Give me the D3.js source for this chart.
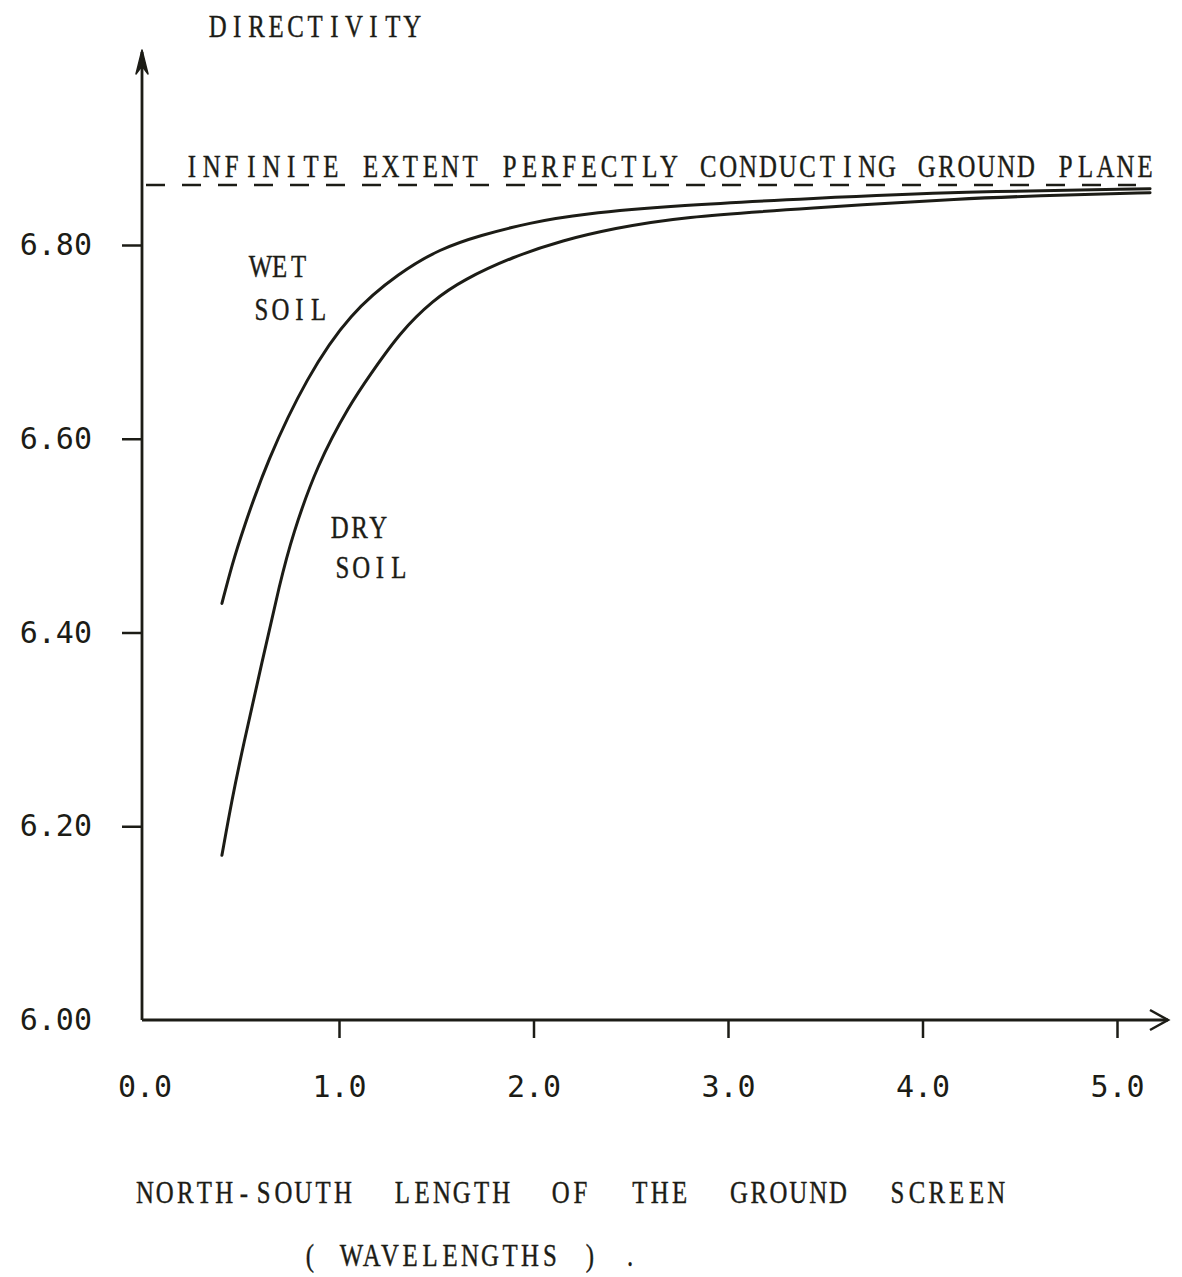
<!DOCTYPE html>
<html>
<head>
<meta charset="utf-8">
<script src="https://cdn.jsdelivr.net/npm/d3@7/dist/d3.min.js"></script>
<style>
  html, body { margin: 0; padding: 0; background: #ffffff; }
  svg { display: block; }
  .tw { font-family: "Liberation Serif", "DejaVu Serif", serif; font-size: 31px; fill: #1c1c16; stroke: #1c1c16; stroke-width: 0.4px; white-space: pre; }
  .num { font-family: "DejaVu Sans Mono", monospace; font-size: 30px; fill: #1c1c16; }
</style>
</head>
<body>
<svg id="chart" width="1182" height="1277"></svg>
<script>
// ---- data ----
const wetX = [0.398, 0.450, 0.506, 0.630, 0.835, 1.057, 1.314, 1.519, 1.725, 1.982, 2.239, 2.753, 3.422, 4.193, 5.170];
const wetY = [6.430, 6.470, 6.506, 6.577, 6.664, 6.730, 6.772, 6.796, 6.810, 6.823, 6.832, 6.841, 6.848, 6.855, 6.858];
const dryX = [0.398, 0.450, 0.506, 0.604, 0.697, 0.760, 0.887, 1.057, 1.160, 1.314, 1.483, 1.638, 1.895, 2.152, 2.409, 2.753, 3.422, 4.193, 4.774, 5.170];
const dryY = [6.170, 6.228, 6.282, 6.369, 6.452, 6.500, 6.573, 6.636, 6.666, 6.710, 6.743, 6.764, 6.788, 6.805, 6.817, 6.829, 6.838, 6.848, 6.852, 6.854];
const referenceLevel = 6.862;
const xTicks = [0, 1, 2, 3, 4, 5];
const yTicks = [6.00, 6.20, 6.40, 6.60, 6.80];
const yTitle = "DIRECTIVITY";
const refLabel = "INFINITE EXTENT PERFECTLY CONDUCTING GROUND PLANE";
const xTitle1 = "NORTH-SOUTH  LENGTH  OF  THE  GROUND  SCREEN";
const xTitle2 = "( WAVELENGTHS ) .";

// ---- drawing ----
const ink = "#1c1c16";
const svg = d3.select("#chart");
const x = d3.scaleLinear().domain([0, 5]).range([144.5, 1117]);
const y = d3.scaleLinear().domain([6.0, 6.8]).range([1020, 245]);
const axisX0 = 142;

// x axis ticks + labels
const gx = svg.append("g").attr("transform", `translate(0,${y(6.0)})`)
  .call(d3.axisBottom(x).tickValues(xTicks).tickSize(18).tickPadding(38).tickFormat(d3.format(".1f")));
gx.select(".domain").remove();
gx.selectAll(".tick line").attr("stroke", ink).attr("stroke-width", 2.5)
  .filter(d => d === 0).remove();
gx.selectAll(".tick text").attr("class", "num").attr("font-family", null).attr("font-size", null);

// y axis ticks + labels
const gy = svg.append("g").attr("transform", `translate(${axisX0},0)`)
  .call(d3.axisLeft(y).tickValues(yTicks).tickSize(20).tickPadding(30).tickFormat(d3.format(".2f")));
gy.select(".domain").remove();
gy.selectAll(".tick line").attr("stroke", ink).attr("stroke-width", 2.5)
  .filter(d => d === 6.0).remove();
gy.selectAll(".tick text").attr("class", "num").attr("font-family", null).attr("font-size", null);

// axis lines with arrows
svg.append("line").attr("x1", axisX0).attr("x2", axisX0).attr("y1", y(6.0)).attr("y2", 52)
  .attr("stroke", ink).attr("stroke-width", 2.8);
svg.append("path").attr("d", `M${axisX0},50 L${axisX0 - 6},74 L${axisX0},66 L${axisX0 + 6},74 Z`)
  .attr("fill", ink).attr("stroke", ink).attr("stroke-width", 1.5).attr("stroke-linejoin", "round");
svg.append("line").attr("x1", axisX0).attr("x2", 1168).attr("y1", y(6.0)).attr("y2", y(6.0))
  .attr("stroke", ink).attr("stroke-width", 2.8);
svg.append("path").attr("d", `M1150,${y(6.0) - 10} L1168,${y(6.0)} L1150,${y(6.0) + 10}`)
  .attr("fill", "none").attr("stroke", ink).attr("stroke-width", 2.5);

// reference dashed line
svg.append("line").attr("x1", axisX0).attr("x2", 1136)
  .attr("y1", y(referenceLevel)).attr("y2", y(referenceLevel))
  .attr("stroke", ink).attr("stroke-width", 2.6).attr("stroke-dasharray", "19,17").attr("stroke-dashoffset", -4);

// curves
const line = d3.line().x(d => x(d[0])).y(d => y(d[1])).curve(d3.curveBasis);
const wet = d3.zip(wetX, wetY);
const dry = d3.zip(dryX, dryY);
[wet, dry].forEach(s => {
  svg.append("path").datum(s).attr("d", line)
    .attr("fill", "none").attr("stroke", ink).attr("stroke-width", 3).attr("stroke-linecap", "round");
});

// typewriter-style texts: one text element, narrowed glyphs centred in fixed-pitch cells
const sx = 0.8;
function tw(str, xx, yy, pitch) {
  const g = svg.append("g").attr("transform", `translate(${xx},${yy}) scale(${sx},1)`);
  const t = g.append("text").attr("class", "tw").attr("x", 0).attr("y", 0).text(str);
  const node = t.node();
  const xs = [];
  for (let i = 0; i < str.length; i++) {
    let w = 0;
    try { w = node.getSubStringLength(i, 1); } catch (e) { w = pitch * 0.7; }
    xs.push(((i + 0.5) * pitch / sx - w / 2).toFixed(2));
  }
  t.attr("x", xs.join(" "));
}
tw(yTitle, 208, 37, 19.45);
tw(refLabel, 182, 177, 19.86);
tw("WET", 251, 277, 19);
tw("SOIL", 252, 320, 19);
tw("DRY", 330, 538, 19.3);
tw("SOIL", 333, 578, 18.8);
tw(xTitle1, 135, 1203, 19.8);
tw(xTitle2, 300, 1266, 20);
</script>
</body>
</html>
